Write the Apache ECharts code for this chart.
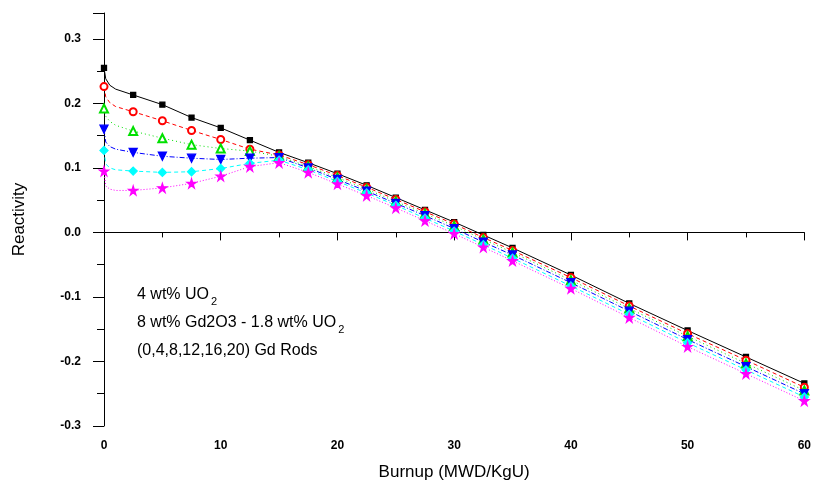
<!DOCTYPE html>
<html>
<head>
<meta charset="utf-8">
<script src="https://cdn.jsdelivr.net/npm/echarts@6/dist/echarts.min.js"></script>
<style>
  html, body { margin: 0; padding: 0; background: #fff; }
  #chart { width: 814px; height: 496px; }
</style>
</head>
<body>
<div id="chart"></div>
<script>
// burnup points (MWD/KgU)
var burnup = [0, 0.15, 0.5, 1, 2.5, 5, 7.5, 10, 12.5, 15, 17.5, 20, 22.5, 25, 27.5, 30, 32.5, 35, 40, 45, 50, 55, 60];

// reactivity for each number of Gd rods
var gd0 = [0.255, 0.238, 0.228, 0.222, 0.213, 0.198, 0.178, 0.162, 0.143, 0.124, 0.108, 0.091, 0.073, 0.054, 0.035, 0.016, -0.004, -0.024, -0.066, -0.110, -0.152, -0.193, -0.234];
var gd4 = [0.226, 0.210, 0.201, 0.195, 0.187, 0.173, 0.158, 0.144, 0.129, 0.120, 0.105, 0.088, 0.070, 0.051, 0.032, 0.013, -0.008, -0.028, -0.070, -0.114, -0.157, -0.198, -0.240];
var gd8 = [0.192, 0.180, 0.172, 0.166, 0.157, 0.146, 0.136, 0.130, 0.126, 0.118, 0.102, 0.085, 0.067, 0.048, 0.029, 0.010, -0.011, -0.031, -0.074, -0.118, -0.161, -0.203, -0.245];
var gd12 = [0.160, 0.140, 0.133, 0.129, 0.124, 0.118, 0.115, 0.113, 0.115, 0.116, 0.100, 0.082, 0.064, 0.045, 0.026, 0.006, -0.015, -0.035, -0.078, -0.122, -0.166, -0.208, -0.250];
var gd16 = [0.127, 0.106, 0.100, 0.097, 0.095, 0.093, 0.094, 0.099, 0.107, 0.112, 0.097, 0.079, 0.061, 0.042, 0.022, 0.002, -0.019, -0.040, -0.083, -0.127, -0.171, -0.213, -0.255];
var gd20 = [0.095, 0.072, 0.067, 0.065, 0.065, 0.069, 0.076, 0.087, 0.102, 0.108, 0.093, 0.075, 0.057, 0.038, 0.018, -0.002, -0.023, -0.044, -0.087, -0.132, -0.177, -0.219, -0.261];

var seriesNames = ['0 Gd', '4 Gd', '8 Gd', '12 Gd', '16 Gd', '20 Gd'];
var noteLines = ['4 wt% UO', '8 wt% Gd2O3 - 1.8 wt% UO', '(0,4,8,12,16,20) Gd Rods'];

var starPath = 'path://M50,0 L61,35 L98,35 L68,57 L79,92 L50,70 L21,92 L32,57 L2,35 L39,35 Z';

//- build [x, y] pairs, no marker on the short early points
var makeData = function (vals) {
  return vals.map(function (v, i) {
    var x = burnup[i];
    if (x > 0 && x < 2.5) {
      return { value: [x, v], symbol: 'none' };
    }
    return [x, v];
  });
}

var styles = [
  { color: '#000000', type: 'solid', symbol: 'rect', size: 5 },
  { color: '#ff0000', type: [4, 3], symbol: 'emptyCircle', size: 7 },
  { color: '#00e000', type: [1, 3], symbol: 'emptyTriangle', size: 8 },
  { color: '#0000ff', type: [5, 2, 1, 2], symbol: 'triangle', size: 8, rotate: 180 },
  { color: '#00ffff', type: [4, 3], symbol: 'diamond', size: 8 },
  { color: '#ff00ff', type: [1, 2], symbol: starPath, size: 9 }
];
var allVals = [gd0, gd4, gd8, gd12, gd16, gd20];

var series = allVals.map(function (vals, k) {
  var s = styles[k];
  return {
    name: seriesNames[k],
    type: 'line',
    data: makeData(vals),
    symbol: s.symbol,
    symbolSize: s.size,
    symbolRotate: s.rotate || 0,
    showAllSymbol: true,
    animation: false,
    lineStyle: { color: s.color, width: 1, type: s.type },
    itemStyle: { color: s.color, borderColor: s.color, borderWidth: 1.3 }
  };
});

var myChart = echarts.init(document.getElementById('chart'));

var labelFont = { color: '#000', fontFamily: 'Liberation Sans', fontSize: 12, fontWeight: 'bold' };

myChart.setOption({
  backgroundColor: '#fff',
  animation: false,
  grid: { left: 104, right: 6, top: 13, bottom: 70 },
  xAxis: {
    type: 'value',
    min: 0,
    max: 60,
    interval: 10,
    name: 'Burnup (MWD/KgU)',
    nameLocation: 'middle',
    nameGap: 38,
    nameTextStyle: { color: '#000', fontFamily: 'Liberation Sans', fontSize: 17 },
    axisLine: { lineStyle: { color: '#000', width: 1 } },
    axisTick: { show: true, length: 8, lineStyle: { color: '#000' } },
    minorTick: { show: true, splitNumber: 2, length: 5, lineStyle: { color: '#000' } },
    axisLabel: Object.assign({ margin: 14 }, labelFont),
    splitLine: { show: false }
  },
  yAxis: {
    type: 'value',
    min: -0.3,
    max: 0.34,
    interval: 0.1,
    name: 'Reactivity',
    nameLocation: 'middle',
    nameGap: 76,
    nameTextStyle: { color: '#000', fontFamily: 'Liberation Sans', fontSize: 17 },
    axisLine: { lineStyle: { color: '#000', width: 1 } },
    axisTick: { show: true, length: 11, lineStyle: { color: '#000' } },
    minorTick: { show: true, splitNumber: 2, length: 7, lineStyle: { color: '#000' } },
    axisLabel: Object.assign({
      margin: 23,
      showMaxLabel: false,
      formatter: function (v) {
        if (Math.abs(v) < 1e-9) return '0.0';
        return v.toFixed(1);
      }
    }, labelFont),
    splitLine: { show: false }
  },
  graphic: noteLines.map(function (t, i) {
    var txt = i < 2 ? '{a|' + t + '}{s|2}' : '{a|' + t + '}';
    return {
      type: 'text',
      left: 137,
      top: 287 + i * 28,
      style: {
        text: txt,
        rich: {
          a: { fontFamily: 'Liberation Sans', fontSize: 16, fill: '#000', color: '#000' },
          s: { fontFamily: 'Liberation Sans', fontSize: 11, fill: '#000', color: '#000', padding: [14, 0, 0, 2] }
        }
      }
    };
  }),
  series: series
});
</script>
</body>
</html>
